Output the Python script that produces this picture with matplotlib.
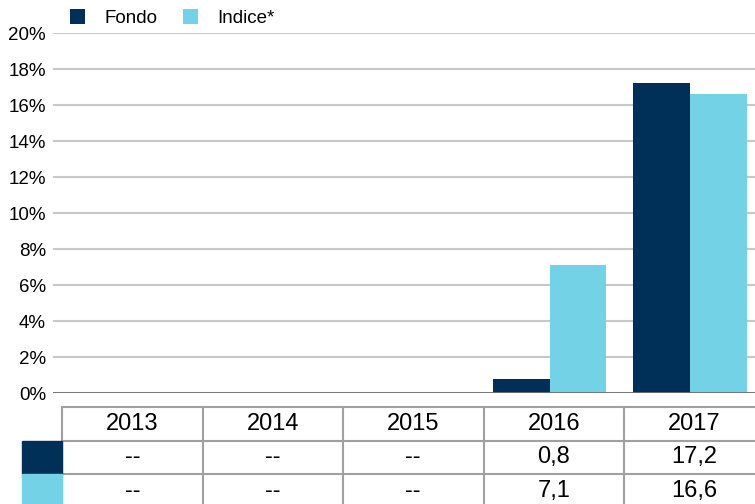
import matplotlib
matplotlib.use("Agg")
import matplotlib.pyplot as plt
import matplotlib.transforms as mtransforms
from matplotlib.patches import Rectangle

years = ["2013", "2014", "2015", "2016", "2017"]
fondo = [None, None, None, 0.8, 17.2]
indice = [None, None, None, 7.1, 16.6]
series_names = ["Fondo", "Indice*"]
colors = ["#003057", "#73D2E6"]
yticks = [0, 2, 4, 6, 8, 10, 12, 14, 16, 18, 20]

plt.rcParams['font.family'] = ['Liberation Sans', 'DejaVu Sans']

W, H = 755, 504
fig = plt.figure(figsize=(W / 100, H / 100), dpi=100)

# main axes in pixel geometry
left_px, right_px = 53, 755
bottom_px, top_px = 393, 33
col0_px, colw_px = 62, 140.5
ax = fig.add_axes([left_px / W, (H - bottom_px) / H, (right_px - left_px) / W, (bottom_px - top_px) / H])
xlo = -0.5 - (col0_px - left_px) / colw_px
xhi = xlo + (right_px - left_px) / colw_px
ax.set_xlim(xlo, xhi)
ax.set_ylim(0, 20)

bw = 0.405
off = -0.03
x = list(range(len(years)))
fv = [v if v is not None else 0 for v in fondo]
iv = [v if v is not None else 0 for v in indice]
ax.bar([i + off - bw / 2 for i in x], fv, width=bw, color=colors[0], zorder=3, label=series_names[0])
ax.bar([i + off + bw / 2 for i in x], iv, width=bw, color=colors[1], zorder=3, label=series_names[1])

ax.set_yticks(yticks)
ax.set_yticklabels([f"{t}%" for t in yticks], fontsize=13.5)
ax.tick_params(axis='y', length=0, pad=5)
ax.set_xticks([])
for s in ax.spines.values():
    s.set_visible(False)
ax.yaxis.grid(True, color="#c8c8c8", linewidth=1.5, zorder=0)
ax.axhline(0, color="#707070", linewidth=2, zorder=4)
ax.set_axisbelow(True)

# legend
leg = fig.legend(*ax.get_legend_handles_labels(), loc='center left',
                 bbox_to_anchor=(70 / W, (H - 18) / H), ncol=2, frameon=False,
                 fontsize=13.5, handlelength=0.8, handleheight=0.8, columnspacing=1.35,
                 handletextpad=1.05, borderpad=0, borderaxespad=0)

# table
trans = mtransforms.blended_transform_factory(ax.transData, fig.transFigure)
row_px = [407, 440.5, 474, 508]
grid_c = "#a0a0a0"
def fy(p):
    return (H - p) / H

rows = [years,
        ["--" if v is None else f"{v:.1f}".replace('.', ',') for v in fondo],
        ["--" if v is None else f"{v:.1f}".replace('.', ',') for v in indice]]
for r in range(3):
    yc = fy((row_px[r] + row_px[r + 1]) / 2)
    for i in range(len(years)):
        ax.text(i, yc, rows[r][i], transform=trans, ha='center', va='center',
                fontsize=17, clip_on=False)
# horizontal lines
for p in row_px[:3]:
    ax.plot([-0.5, len(years) - 0.5], [fy(p), fy(p)], transform=trans, color=grid_c,
            linewidth=1.5, clip_on=False, solid_capstyle='butt')
# vertical lines
for i in range(len(years) + 1):
    ax.plot([i - 0.5, i - 0.5], [fy(row_px[0]), fy(row_px[3])], transform=trans, color=grid_c,
            linewidth=1.5, clip_on=False)
# swatches
for r in range(2):
    fig.patches.append(Rectangle((22 / W, fy(row_px[r + 2])), 40 / W,
                                 (row_px[r + 2] - row_px[r + 1]) / H,
                                 transform=fig.transFigure, color=colors[r], zorder=5))

fig.savefig("out.png", dpi=100)
